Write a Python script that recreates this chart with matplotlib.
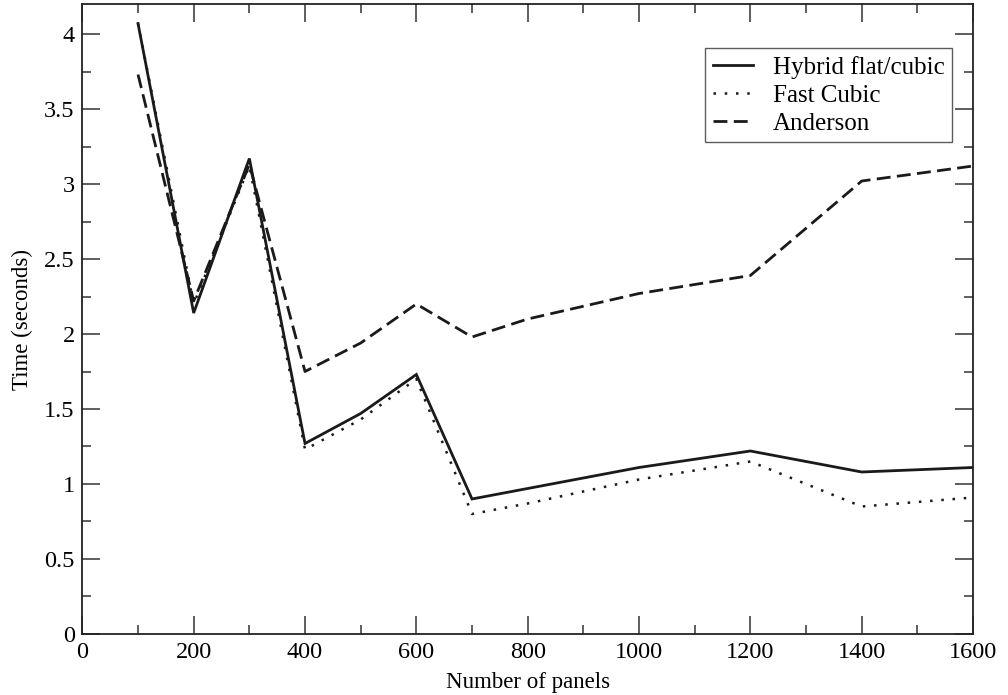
import matplotlib
matplotlib.use("Agg")
import matplotlib.pyplot as plt
from matplotlib.ticker import MultipleLocator, FormatStrFormatter

# %% data
panels = [100, 200, 300, 400, 500, 600, 700, 800, 1000, 1200, 1400, 1600]
hybrid = [4.07, 2.14, 3.17, 1.27, 1.47, 1.73, 0.90, 0.97, 1.11, 1.22, 1.08, 1.11]
fast_cubic = [4.07, 2.20, 3.12, 1.23, 1.43, 1.70, 0.80, 0.87, 1.03, 1.15, 0.85, 0.91]
anderson = [3.73, 2.22, 3.13, 1.75, 1.94, 2.20, 1.98, 2.10, 2.27, 2.39, 3.02, 3.12]

labels = ["Hybrid flat/cubic", "Fast Cubic", "Anderson"]

plt.rcParams['font.family'] = ['Liberation Serif', 'DejaVu Serif']

# %% plot
fig = plt.figure(figsize=(10.08, 6.95), dpi=100)
ax = fig.add_axes([0.0817, 0.0878, 0.8836, 0.9064])

ink = '#1a1a1a'
ax.plot(panels, hybrid, color=ink, lw=2.0, solid_joinstyle='miter', label=labels[0])
ax.plot(panels, fast_cubic, color=ink, lw=1.8, linestyle=(0, (1, 3.5)),
        label=labels[1])
ax.plot(panels, anderson, color=ink, lw=2.0, linestyle=(0, (5, 2.3)),
        label=labels[2])

ax.set_xlim(0, 1600)
ax.set_ylim(0, 4.2)
ax.xaxis.set_major_locator(MultipleLocator(200))
ax.xaxis.set_minor_locator(MultipleLocator(100))
ax.yaxis.set_major_locator(MultipleLocator(0.5))
ax.yaxis.set_minor_locator(MultipleLocator(0.25))
ax.yaxis.set_major_formatter(FormatStrFormatter('%g'))

ax.tick_params(which='both', direction='in', top=True, right=True,
               color='#333333', width=1.1, labelsize=17.5)
ax.tick_params(axis='x', which='major', pad=6)
ax.tick_params(axis='y', which='major', pad=5.5)
ax.tick_params(which='major', length=13)
ax.tick_params(which='minor', length=6.5)
for s in ax.spines.values():
    s.set_linewidth(1.3)
    s.set_color('#222222')

ax.set_xlabel("Number of panels", fontsize=16.5, labelpad=6)
ax.set_ylabel("Time (seconds)", fontsize=16.5, labelpad=8)

leg = ax.legend(loc='upper right', bbox_to_anchor=(0.9764, 0.930), fontsize=18,
                fancybox=False, frameon=True, handlelength=1.6,
                borderpad=0.3, labelspacing=0.22, handletextpad=0.8,
                borderaxespad=0)
leg.get_frame().set_edgecolor('#333333')
leg.get_frame().set_linewidth(1.0)

fig.savefig("out.png", dpi=100)
